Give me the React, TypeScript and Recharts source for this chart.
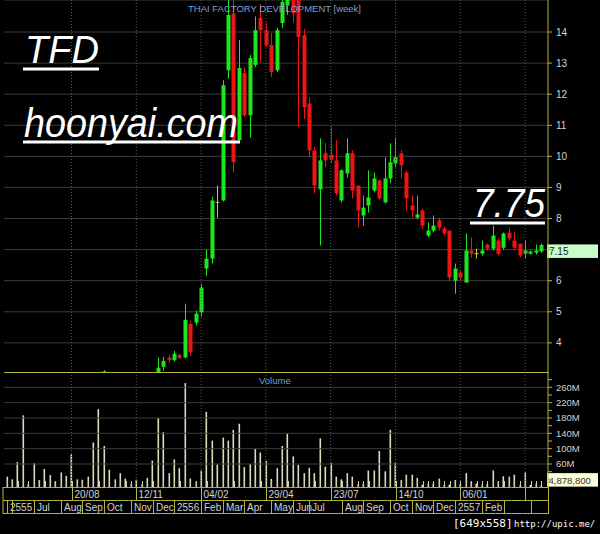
import React from 'react';
import { ComposedChart, Bar, XAxis, YAxis, CartesianGrid, ReferenceLine } from 'recharts';

// ---- data (weekly, index 0 = first week shown) ----
const OPEN = [
  2.52, 2.58, 2.54, 2.66, 2.84, 2.76, 2.80, 2.74, 2.66, 2.62,
  2.64, 2.70, 2.66, 2.80, 2.76, 2.72, 2.76, 2.90, 2.86, 2.98,
  2.86, 2.80, 2.84, 2.78, 2.80, 2.76, 2.78, 2.84, 2.96, 3.23,
  3.53, 3.44, 3.61, 3.53, 4.61, 4.65, 4.98, 6.39, 6.71, 8.52,
  8.58, 12.77, 14.6, 10.52, 12.68, 11.32, 12.94, 14.45, 14.06, 13.58,
  12.77, 14.29, 14.85, 15.1, 15.3, 13.9, 11.7, 10.19, 8.94, 10.1,
  10.05, 9.87, 8.58, 9.45, 10.1, 9.06, 8.1, 8.42, 8.9, 9.23,
  8.52, 9.29, 9.77, 10.1, 9.48, 8.42, 8.03, 8.26, 7.45, 7.61,
  7.94, 7.68, 7.61, 6.0, 6.26, 5.94, 6.97, 6.87, 6.87, 7.16,
  7.03, 7.29, 7.06, 7.55, 7.29, 7.19, 6.87, 6.87, 6.9, 6.94,
];
const HIGH = [
  2.62, 2.64, 2.70, 2.96, 2.88, 2.86, 2.84, 2.82, 2.72, 2.68,
  2.74, 2.76, 2.86, 2.84, 2.80, 2.80, 2.96, 3.00, 3.12, 3.02,
  2.92, 2.90, 2.88, 2.84, 2.86, 2.82, 2.88, 2.98, 3.53, 3.55,
  3.62, 3.74, 3.66, 5.26, 4.70, 5.03, 5.90, 7.0, 8.7, 9.06,
  12.45, 15.2, 15.2, 13.74, 12.87, 13.26, 14.5, 14.9, 14.3, 13.97,
  14.13, 15.1, 15.4, 15.4, 15.6, 14.1, 11.9, 10.29, 10.58, 10.42,
  10.94, 10.52, 9.58, 10.58, 10.19, 9.06, 8.74, 9.55, 9.48, 9.25,
  9.97, 10.42, 10.61, 10.2, 9.55, 8.74, 8.74, 8.3, 7.87, 8.1,
  8.03, 7.75, 7.61, 6.55, 6.32, 7.52, 7.39, 7.03, 7.29, 7.2,
  7.77, 7.36, 7.55, 7.71, 7.55, 7.19, 7.29, 6.97, 7.16, 7.19,
];
const LOW = [
  2.46, 2.50, 2.50, 2.60, 2.72, 2.68, 2.70, 2.62, 2.58, 2.56,
  2.60, 2.62, 2.64, 2.72, 2.68, 2.66, 2.74, 2.80, 2.84, 2.80,
  2.76, 2.74, 2.76, 2.72, 2.74, 2.70, 2.74, 2.80, 2.90, 3.10,
  3.35, 3.40, 3.48, 3.50, 3.58, 4.55, 4.84, 6.16, 6.55, 8.03,
  8.55, 12.5, 9.48, 10.42, 11.26, 10.6, 12.87, 13.03, 13.52, 12.55,
  12.71, 14.13, 14.55, 14.3, 10.94, 11.2, 9.97, 8.81, 7.13, 9.65,
  9.78, 8.74, 8.52, 9.32, 8.65, 7.71, 7.77, 8.19, 8.84, 8.6,
  8.48, 9.13, 9.65, 9.3, 8.26, 8.03, 7.97, 7.68, 7.39, 7.55,
  7.61, 7.45, 6.0, 5.58, 6.0, 5.94, 6.74, 6.71, 6.81, 6.97,
  6.97, 6.81, 7.0, 7.29, 6.97, 6.74, 6.71, 6.84, 6.84, 6.9,
];
const CLOSE = [
  2.58, 2.54, 2.66, 2.84, 2.76, 2.80, 2.74, 2.66, 2.62, 2.64,
  2.70, 2.66, 2.80, 2.76, 2.72, 2.76, 2.90, 2.86, 3.08, 2.86,
  2.80, 2.84, 2.78, 2.80, 2.76, 2.78, 2.84, 2.94, 3.20, 3.42,
  3.45, 3.65, 3.51, 4.74, 3.70, 4.94, 5.78, 6.71, 8.58, 8.52,
  12.29, 14.55, 9.81, 12.84, 11.32, 13.16, 14.06, 14.06, 13.58, 12.71,
  14.06, 14.97, 15.1, 14.6, 13.84, 11.58, 10.19, 9.06, 9.87, 9.87,
  9.9, 8.81, 9.55, 10.1, 8.9, 8.26, 8.35, 8.68, 9.29, 8.65,
  9.29, 9.81, 9.97, 9.71, 8.65, 8.26, 8.13, 7.77, 7.61, 7.77,
  7.71, 7.52, 6.1, 6.39, 6.1, 6.97, 6.87, 6.87, 6.97, 7.03,
  7.45, 6.87, 7.52, 7.36, 7.06, 6.81, 6.97, 6.94, 6.97, 7.15,
];
// weekly volume in millions of shares
const VOLUME_M = [
  27, 20, 65, 187, 8, 62, 18, 47, 31, 14,
  38, 29, 85, 20, 19, 27, 116, 203, 107, 45,
  20, 36, 22, 8, 19, 8, 24, 69, 180, 143,
  36, 72, 49, 271, 22, 14, 43, 196, 121, 59,
  129, 121, 149, 165, 52, 60, 99, 90, 68, 21,
  49, 107, 139, 80, 58, 36, 50, 36, 127, 53,
  63, 27, 20, 36, 27, 8, 8, 43, 43, 94,
  41, 149, 63, 18, 32, 32, 24, 6, 9, 9,
  22, 6, 6, 18, 8, 36, 14, 9, 6, 8,
  43, 14, 28, 27, 32, 6, 38, 5, 9, 4.8788,
];

const PRICE_TICKS = [4, 5, 6, 7, 8, 9, 10, 11, 12, 13, 14];
const VOL_TICKS_M = [20, 40, 60, 80, 100, 120, 140, 160, 180, 200, 220, 240, 260, 280];
const VOL_LABELS_M = [60, 100, 140, 180, 220, 260];
const DATE_MARKS = [
  { i: 12, label: '20/08' }, { i: 24, label: '12/11' }, { i: 36, label: '04/02' },
  { i: 48, label: '29/04' }, { i: 60, label: '23/07' }, { i: 72, label: '14/10' },
  { i: 84, label: '06/01' }, { i: 96, label: '' },
];
const MONTH_MARKS = [
  { i: 0, label: '2555' }, { i: 1, label: '' }, { i: 5, label: 'Jul' }, { i: 10, label: 'Aug' },
  { i: 14, label: 'Sep' }, { i: 18, label: 'Oct' }, { i: 23, label: 'Nov' }, { i: 27, label: 'Dec' },
  { i: 31, label: '2556' }, { i: 36, label: 'Feb' }, { i: 40, label: 'Mar' }, { i: 44, label: 'Apr' },
  { i: 49, label: 'May' }, { i: 53, label: 'Jun' }, { i: 56, label: 'Jul' }, { i: 62, label: 'Aug' },
  { i: 66, label: 'Sep' }, { i: 71, label: 'Oct' }, { i: 75, label: 'Nov' }, { i: 79, label: 'Dec' },
  { i: 83, label: '2557' }, { i: 88, label: 'Feb' }, { i: 92, label: '' }, { i: 97, label: '' },
];
const LAST_PRICE = 7.15;
const LAST_VOLUME = 4878800;
const TITLE = 'THAI FACTORY DEVELOPMENT [week]';

// ---- styling ----
const W = 600;
const LEFT = 4;
const AXIS_W = 52;
const PAD_R = 4;
const N = OPEN.length;
const BAND = (W - LEFT - AXIS_W - PAD_R) / N;
const PLOT_RIGHT = W - AXIS_W;
const GREEN = '#1ee61e';
const RED = '#ee1414';
const DOJI = '#c8c83c';
const AXIS = '#b4b43c';
const GRID = '#3c3c3c';
const VGRID = '#5a5a5a';
const LABEL = '#d2d2d2';
const BLUE = '#7f9fcf';
const FONT = '"Liberation Sans", Arial, sans-serif';

const data = OPEN.map((o, i) => ({
  i,
  o,
  h: HIGH[i],
  l: LOW[i],
  c: CLOSE[i],
  range: [LOW[i], HIGH[i]],
  vol: VOLUME_M[i] * 1e6,
}));

const Candle = (props: any) => {
  const { x, y, width, height, payload } = props;
  if (payload == null || !isFinite(y) || !isFinite(height)) return null;
  const { o, h, l, c } = payload;
  const span = h - l || 1;
  const pix = (v: number) => y + ((h - v) / span) * height;
  const cx = Math.round(x + width / 2) + 0.5;
  const color = c > o ? GREEN : c < o ? RED : DOJI;
  const top = pix(Math.max(o, c));
  const bot = pix(Math.min(o, c));
  return (
    <g>
      <line x1={cx} x2={cx} y1={y} y2={y + height} stroke={color} strokeWidth={1} />
      {o === c ? (
        <line x1={cx - 2} x2={cx + 2} y1={top} y2={top} stroke={color} strokeWidth={1} />
      ) : (
        <rect x={cx - 2} y={top} width={4} height={Math.max(1, bot - top)} fill={color} />
      )}
    </g>
  );
};

const VolBar = (props: any) => {
  const { x, y, width, height } = props;
  if (!isFinite(y) || !isFinite(height)) return null;
  const cx = Math.round(x + width / 2);
  return <rect x={cx - 0.5} y={y} width={1.6} height={Math.max(0, height)} fill="#dcdcbc" />;
};

const PriceTick = (props: any) => {
  const { x, y, payload } = props;
  if (payload.value === 7) return null;
  return (
    <text x={x} y={y} dy={3.6} fill={LABEL} fontSize={10} fontFamily={FONT}>
      {payload.value}
    </text>
  );
};

const VolTick = (props: any) => {
  const { x, y, payload } = props;
  const m = Math.round(payload.value / 1e6);
  if (!VOL_LABELS_M.includes(m)) return null;
  return (
    <text x={x} y={y} dy={3.4} fill={LABEL} fontSize={9.5} fontFamily={FONT}>
      {m}M
    </text>
  );
};

const DateTick = (props: any) => {
  const { x, y, payload } = props;
  const idx = Number(payload.value);
  const d = DATE_MARKS.find((m) => m.i === idx);
  const mo = MONTH_MARKS.find((m) => m.i === idx);
  const left = idx === 0 ? LEFT - 1 : x - BAND / 2;
  const right = idx === N - 1 ? PLOT_RIGHT + 0.5 : x + BAND / 2;
  const cx = Math.round(x) + 0.5;
  return (
    <g>
      <line x1={cx} x2={cx} y1={y - 6} y2={y} stroke="#cfcfa8" strokeWidth={1} />
      {[0.5, 13.5, 26.5].map((dy) => (
        <line key={dy} x1={left} x2={right} y1={y + dy} y2={y + dy} stroke={AXIS} strokeWidth={1} />
      ))}
      {idx === 0 && <line x1={LEFT - 1} x2={LEFT - 1} y1={y} y2={y + 27} stroke={AXIS} strokeWidth={1} />}
      {idx === N - 1 && (
        <line x1={PLOT_RIGHT + 0.5} x2={PLOT_RIGHT + 0.5} y1={y - 1} y2={y + 27} stroke={AXIS} strokeWidth={1} />
      )}
      {d && (
        <g>
          <line x1={cx} x2={cx} y1={y} y2={y + 13} stroke={AXIS} strokeWidth={1} />
          <text x={cx + 2} y={y + 10.5} fill={LABEL} fontSize={10} fontFamily={FONT}>
            {d.label}
          </text>
        </g>
      )}
      {mo && (
        <g>
          <line x1={cx} x2={cx} y1={y + 13} y2={y + 26} stroke={AXIS} strokeWidth={1} />
          {mo.label && (
            <text x={cx + 2.5} y={y + 23.5} fill={LABEL} fontSize={10} fontFamily={FONT}>
              {mo.label}
            </text>
          )}
        </g>
      )}
    </g>
  );
};

const PriceBox = (props: any) => {
  const vb = props.viewBox;
  if (!vb) return null;
  const x = vb.x + vb.width - 1;
  const y = vb.y - 0.5;
  return (
    <g>
      <rect x={x} y={y} width={51} height={13.5} fill="#c8ffc8" />
      <text x={x + 2} y={y + 10.5} fill="#202020" fontSize={10} fontFamily={FONT}>
        {LAST_PRICE.toFixed(2)}
      </text>
    </g>
  );
};

const VolBox = (props: any) => {
  const vb = props.viewBox;
  if (!vb) return null;
  const x = vb.x + vb.width - 1;
  const y = vb.y - 12;
  return (
    <g>
      <rect x={x} y={y} width={51} height={13.5} fill="#ffffd8" />
      <text x={x + 1.5} y={y + 10.5} fill="#303030" fontSize={9.5} fontFamily={FONT}>
        {LAST_VOLUME.toLocaleString('en-US')}
      </text>
    </g>
  );
};

export default function App() {
  return (
    <div
      style={{
        position: 'absolute',
        left: 0,
        top: 0,
        width: 600,
        height: 534,
        background: '#000',
        overflow: 'hidden',
      }}
    >
      <div style={{ position: 'absolute', left: 0, top: 0 }}>
        <ComposedChart width={W} height={373} data={data} margin={{ top: 0, right: 0, bottom: 0, left: LEFT }}>
          <CartesianGrid vertical={false} stroke={GRID} />
          <XAxis dataKey="i" type="category" hide padding={{ left: 0, right: PAD_R }} />
          <YAxis
            orientation="right"
            width={AXIS_W}
            domain={[3.03, 15.03]}
            allowDataOverflow
            ticks={PRICE_TICKS}
            interval={0}
            axisLine={{ stroke: AXIS }}
            tickLine={{ stroke: AXIS }}
            tickSize={4}
            tickMargin={4}
            tick={<PriceTick />}
          />
          {DATE_MARKS.map((m) => (
            <ReferenceLine key={m.i} x={m.i} stroke={VGRID} strokeDasharray="1 2" />
          ))}
          <Bar dataKey="range" shape={<Candle />} isAnimationActive={false} />
          <ReferenceLine y={LAST_PRICE} stroke="none" label={<PriceBox />} />
        </ComposedChart>
      </div>
      <div style={{ position: 'absolute', left: 0, top: 372 }}>
        <ComposedChart width={W} height={162} data={data} margin={{ top: 0, right: 0, bottom: 0, left: LEFT }}>
          <XAxis
            dataKey="i"
            type="category"
            height={47}
            padding={{ left: 0, right: PAD_R }}
            interval={0}
            axisLine={false}
            tickLine={false}
            tickSize={0}
            tickMargin={0}
            tick={<DateTick />}
          />
          <YAxis
            orientation="right"
            width={AXIS_W}
            domain={[0, 300e6]}
            allowDataOverflow
            ticks={VOL_TICKS_M.map((v) => v * 1e6)}
            interval={0}
            axisLine={{ stroke: AXIS }}
            tickLine={{ stroke: AXIS }}
            tickSize={4}
            tickMargin={4}
            tick={<VolTick />}
          />
          {VOL_LABELS_M.map((v) => (
            <ReferenceLine key={v} y={v * 1e6} stroke={GRID} />
          ))}
          {DATE_MARKS.map((m) => (
            <ReferenceLine key={'d' + m.i} x={m.i} stroke={VGRID} strokeDasharray="1 2" />
          ))}
          <Bar dataKey="vol" shape={<VolBar />} isAnimationActive={false} />
          <ReferenceLine y={300e6} stroke={AXIS} strokeWidth={2} />
          <ReferenceLine y={LAST_VOLUME} stroke="none" label={<VolBox />} />
        </ComposedChart>
      </div>
      <svg
        width={600}
        height={534}
        style={{ position: 'absolute', left: 0, top: 0, pointerEvents: 'none' }}
      >
        <text x={188} y={12} fill={BLUE} fontSize={9.5} fontFamily={FONT}>
          {TITLE}
        </text>
        <text x={259} y={384} fill={BLUE} fontSize={9.5} fontFamily={FONT}>
          Volume
        </text>
        <text x={25} y={63} fill="#fff" fontSize={39} fontStyle="italic" fontFamily={FONT} textLength={74} lengthAdjust="spacingAndGlyphs">
          TFD
        </text>
        <rect x={23} y={67.5} width={76} height={3} fill="#fff" />
        <text x={24} y={137} fill="#fff" fontSize={41} fontStyle="italic" fontFamily={FONT} textLength={214} lengthAdjust="spacingAndGlyphs">
          hoonyai.com
        </text>
        <rect x={23} y={140.5} width={217} height={3} fill="#fff" />
        <text x={473} y={217} fill="#fff" fontSize={40} fontStyle="italic" fontFamily={FONT} textLength={72} lengthAdjust="spacingAndGlyphs">
          7.75
        </text>
        <rect x={470} y={221.5} width={75} height={3} fill="#fff" />
        <text x={453} y={527} fill="#fff" fontSize={11} fontFamily='"DejaVu Sans Mono", monospace'>
          [649x558]
        </text>
        <text x={514} y={527} fill="#fff" fontSize={9} fontFamily='"DejaVu Sans Mono", monospace'>
          http://upic.me/
        </text>
      </svg>
    </div>
  );
}
